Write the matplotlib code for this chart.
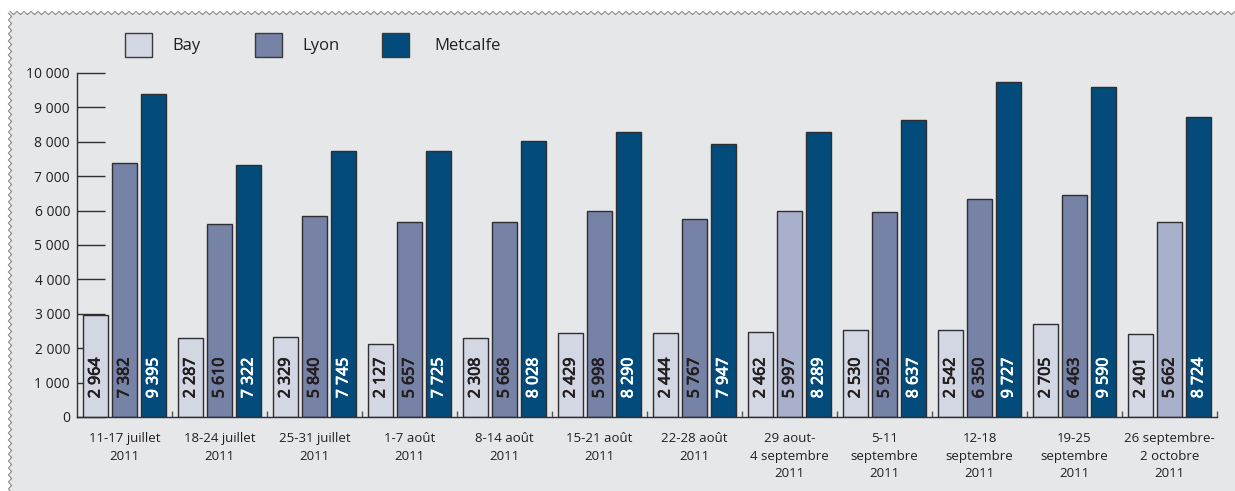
import numpy as np
import matplotlib
matplotlib.use("Agg")
import matplotlib.pyplot as plt
import matplotlib.patheffects as pe
from matplotlib.patches import Rectangle
from matplotlib.lines import Line2D
from matplotlib.ticker import FuncFormatter

# --- data -------------------------------------------------------------
weeks = [
    "11-17 juillet\n2011",
    "18-24 juillet\n2011",
    "25-31 juillet\n2011",
    "1-7 août\n2011",
    "8-14 août\n2011",
    "15-21 août\n2011",
    "22-28 août\n2011",
    "29 aout-\n4 septembre\n2011",
    "5-11\nseptembre\n2011",
    "12-18\nseptembre\n2011",
    "19-25\nseptembre\n2011",
    "26 septembre-\n2 octobre\n2011",
]
series_names = ["Bay", "Lyon", "Metcalfe"]
bay = [2964, 2287, 2329, 2127, 2308, 2429, 2444, 2462, 2530, 2542, 2705, 2401]
lyon = [7382, 5610, 5840, 5657, 5668, 5998, 5767, 5997, 5952, 6350, 6463, 5662]
metcalfe = [9395, 7322, 7745, 7725, 8028, 8290, 7947, 8289, 8637, 9727, 9590, 8724]
y_ticks = list(range(0, 10001, 1000))

# --- style ------------------------------------------------------------
W, H, DPI = 1235, 491, 100
BG = "#e6e7e9"
INK = "#231f20"
EDGE = "#2e2e33"
C_BAY = "#d3d7e3"
C_LYON = "#7682a6"
C_LYON_LIGHT = "#a9b0cb"
C_MET = "#024b7b"
lyon_light_weeks = {7, 11}

plt.rcParams["font.family"] = ["Open Sans", "DejaVu Sans"]

fig = plt.figure(figsize=(W / DPI, H / DPI), dpi=DPI)
fig.patch.set_facecolor("white")

# grey panel with zigzag edges on top and left
px, py = 1.0 / W, 1.0 / H
left_edge, top_edge = 10, 13
fig.patches.append(Rectangle((left_edge * px, 0), 1, 1 - top_edge * py,
                             transform=fig.transFigure, facecolor=BG,
                             edgecolor="none", zorder=-10))
period, amp = 7.0, 1.6
xs = np.arange(left_edge, W + period, period / 2)
ys = top_edge + np.where(np.arange(len(xs)) % 2 == 0, -amp, amp)
fig.lines.append(Line2D(xs * px, 1 - ys * py, transform=fig.transFigure,
                        color="#8a8a8a", lw=0.8, zorder=-5))
ys2 = np.arange(top_edge, H + period, period / 2)
xs2 = left_edge + np.where(np.arange(len(ys2)) % 2 == 0, -amp, amp)
fig.lines.append(Line2D(xs2 * px, 1 - ys2 * py, transform=fig.transFigure,
                        color="#8a8a8a", lw=0.8, zorder=-5))

ax = fig.add_axes([77 * px, 1 - 417 * py, (1217 - 77) * px, (417 - 73) * py])
ax.set_facecolor("none")
ax.set_axisbelow(True)

x = np.arange(len(weeks))
bw = 0.272
off = 0.305

lyon_colors = [C_LYON_LIGHT if i in lyon_light_weeks else C_LYON for i in range(len(weeks))]
groups = [
    (bay, -off, [C_BAY] * len(weeks), INK),
    (lyon, 0.0, lyon_colors, INK),
    (metcalfe, off, [C_MET] * len(weeks), "white"),
]


def fr(v):
    return f"{v:,}".replace(",", " ")


for vals, dx, cols, tcol in groups:
    bars = ax.bar(x + dx, vals, width=bw, color=cols, edgecolor=EDGE,
                  linewidth=1.0, zorder=2)
    for b, v in zip(bars, vals):
        ax.annotate(fr(v), (b.get_x() + b.get_width() / 2, 0),
                    xytext=(0, 13.5), textcoords="offset points",
                    rotation=90, ha="center", va="bottom", color=tcol,
                    fontsize=11.5, zorder=3,
                    path_effects=[pe.withStroke(linewidth=0.6, foreground=tcol)])

ax.set_xlim(-0.5, len(weeks) - 0.5)
ax.set_ylim(0, 10000)

for s in ["top", "right"]:
    ax.spines[s].set_visible(False)
for s in ["left", "bottom"]:
    ax.spines[s].set_color(EDGE)
    ax.spines[s].set_linewidth(1.0)
ax.spines["left"].set_bounds(0, 10000)

ax.set_yticks(y_ticks)
ax.yaxis.set_major_formatter(FuncFormatter(lambda v, p: fr(int(v))))
ax.tick_params(axis="y", direction="in", length=20, width=1.0, color=EDGE,
               pad=5, labelsize=10, labelcolor=INK)

ax.set_xticks(x)
ax.set_xticklabels(weeks, fontsize=9.5, color=INK, linespacing=1.45)
ax.tick_params(axis="x", which="major", length=0, pad=11)
ax.set_xticks(np.arange(len(weeks)) + 0.5, minor=True)
ax.tick_params(axis="x", which="minor", direction="in", length=4.5,
               width=1.0, color="#555555")

# legend drawn in figure coordinates
legend_items = [
    (125, 172, C_BAY),
    (255, 302, C_LYON),
    (382, 434, C_MET),
]
for name, (bx, tx, c) in zip(series_names, legend_items):
    fig.patches.append(Rectangle((bx * px, 1 - 57 * py), 27 * px, 24 * py,
                                 transform=fig.transFigure, facecolor=c,
                                 edgecolor="#3a3a3a", linewidth=1.0))
    fig.text(tx * px, 1 - 46 * py, name, fontsize=12, color=INK,
             ha="left", va="center")

fig.savefig("out.png", dpi=DPI, facecolor=fig.get_facecolor())
